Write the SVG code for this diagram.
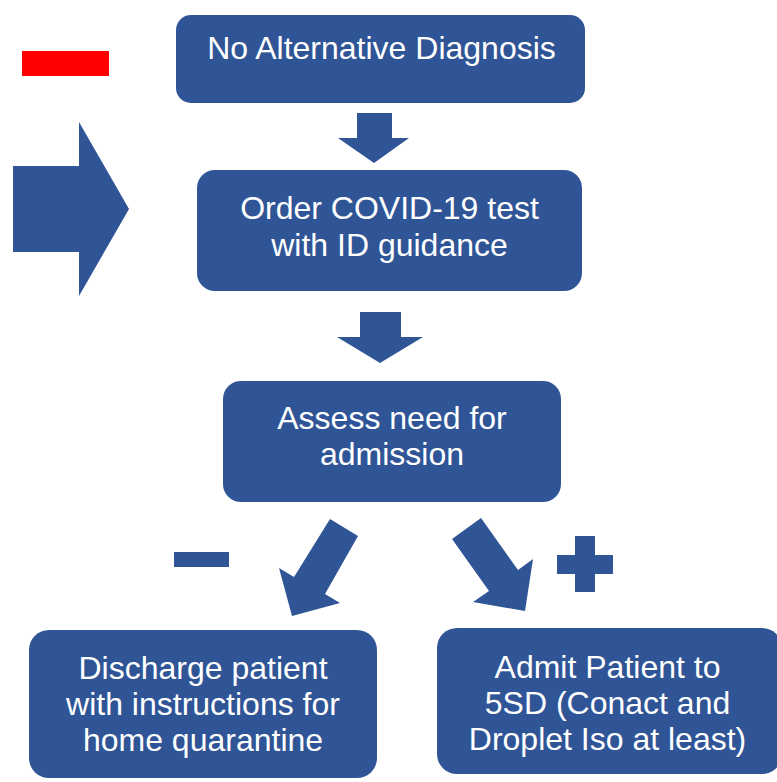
<svg xmlns="http://www.w3.org/2000/svg" width="777" height="782" viewBox="0 0 777 782">
<style>
.box{fill:#2F5597}
.arr{fill:#2F5597}
.t{font-family:"Liberation Sans",Arial,sans-serif;font-size:32px;fill:#fff;text-anchor:middle}
</style>
<rect width="777" height="782" fill="#fff"/>
<rect x="22" y="51" width="87" height="25" fill="#FF0000"/>
<g id="connectors">
<polygon class="arr" points="13,166 79,166 79,122 129,209 79,296 79,252 13,252"/>
<polygon class="arr" points="357,113 392,113 392,138 409,138 374,163 338,138 357,138"/>
<polygon class="arr" points="360,312 401,312 401,337 423,337 380,363 337,337 360,337"/>
<polygon class="arr" points="330,519 358,536 325,594 340,603 292,616 279,568 294,577"/>
<polygon class="arr" points="481,518 518,570 533,559 525,611 473,602 489,591 452,539"/>
<rect class="arr" x="174" y="552" width="55" height="15"/>
<rect class="arr" x="575" y="536" width="20" height="56"/>
<rect class="arr" x="557" y="555" width="56" height="19"/>
</g>
<g id="n1"><rect class="box" x="176" y="15" width="409" height="88" rx="15"/>
<text class="t" x="381.5" y="58.5">No Alternative Diagnosis</text></g>
<g id="n2"><rect class="box" x="197" y="170" width="385" height="121" rx="18"/>
<text class="t" x="389.5" y="218.5">Order COVID-19 test</text>
<text class="t" x="389.5" y="255.5">with ID guidance</text></g>
<g id="n3"><rect class="box" x="223" y="381" width="338" height="121" rx="18"/>
<text class="t" x="392" y="428.5">Assess need for</text>
<text class="t" x="392" y="465">admission</text></g>
<g id="n4"><rect class="box" x="29" y="630" width="348" height="148" rx="20"/>
<text class="t" x="203" y="678.5">Discharge patient</text>
<text class="t" x="203" y="715">with instructions for</text>
<text class="t" x="203" y="751">home quarantine</text></g>
<g id="n5"><rect class="box" x="437" y="628" width="345" height="146" rx="20"/>
<text class="t" x="607.5" y="677.5">Admit Patient to</text>
<text class="t" x="607.5" y="714">5SD (Conact and</text>
<text class="t" x="607.5" y="750">Droplet Iso at least)</text></g>
</svg>
